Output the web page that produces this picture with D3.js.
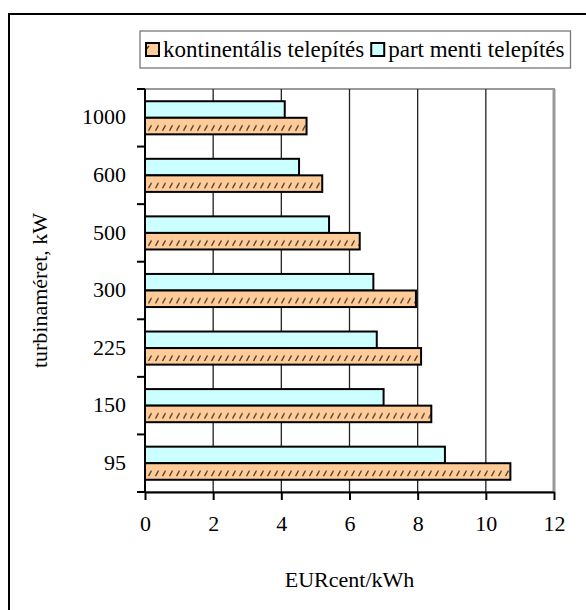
<!DOCTYPE html>
<html>
<head>
<meta charset="utf-8">
<script src="https://cdn.jsdelivr.net/npm/d3@7"></script>
<style>
  body { margin: 0; background: #fff; }
  svg { display: block; }
  svg text { font-family: "Liberation Serif", "Times New Roman", serif; fill: #000; }
</style>
</head>
<body>
<div id="chart"></div>
<script>
// ---- data ----
const categories = ["95", "150", "225", "300", "500", "600", "1000"];
const seriesNames = ["kontinentális telepítés", "part menti telepítés"];
const kontinentalis = [10.72, 8.4, 8.1, 7.95, 6.3, 5.2, 4.74];
const partMenti = [8.8, 7.0, 6.8, 6.7, 5.4, 4.52, 4.1];
const xTicks = [0, 2, 4, 6, 8, 10, 12];
const xTitle = "EURcent/kWh";
const yTitle = "turbinaméret, kW";

const W = 586, H = 610;
const FS = 22;
const plot = { left: 145, right: 554, top: 89, bottom: 492 };

const svg = d3.select("#chart").append("svg").attr("width", W).attr("height", H);

// outer frame (extends beyond the picture at right/bottom)
svg.append("rect").attr("x", 9).attr("y", 14).attr("width", 600).attr("height", 620)
  .attr("fill", "#fff").attr("stroke", "#000").attr("stroke-width", 2);

const x = d3.scaleLinear().domain([0, 12]).range([plot.left, plot.right]);
const y = d3.scaleBand().domain(categories.slice().reverse()).range([plot.top, plot.bottom]).padding(0);
const step = y.step();
const groupH = step * 0.575;
const inner = d3.scaleBand().domain(["part", "kont"]).range([0, groupH]).padding(0);
const groupOff = (step - groupH) / 2;

// hatch pattern aligned with the orange bar rows
const defs = svg.append("defs");
const firstKontTop = y(categories[categories.length - 1]) + groupOff + inner("kont");
const pat = defs.append("pattern").attr("id", "hatch").attr("patternUnits", "userSpaceOnUse")
  .attr("x", 0).attr("y", firstKontTop).attr("width", 7).attr("height", step);
pat.append("rect").attr("width", 7).attr("height", step).attr("fill", "#FFCC99");
pat.append("line").attr("x1", 1.5).attr("y1", inner.bandwidth() * 0.78).attr("x2", 4.5).attr("y2", inner.bandwidth() * 0.45)
  .attr("stroke", "#4a3a2a").attr("stroke-width", 1.4);

const legPat = defs.append("pattern").attr("id", "hatchLeg").attr("patternUnits", "userSpaceOnUse")
  .attr("width", 14).attr("height", 14);
legPat.append("rect").attr("width", 14).attr("height", 14).attr("fill", "#FFCC99");
legPat.append("line").attr("x1", 4).attr("y1", 10).attr("x2", 9).attr("y2", 4)
  .attr("stroke", "#4a3a2a").attr("stroke-width", 1.4);

// plot area border (gray)
svg.append("rect").attr("x", plot.left).attr("y", plot.top)
  .attr("width", plot.right - plot.left).attr("height", plot.bottom - plot.top)
  .attr("fill", "#fff").attr("stroke", "#999").attr("stroke-width", 2);

// vertical gridlines
svg.append("g").selectAll("line").data(xTicks.filter(d => d > 0 && d < 12)).join("line")
  .attr("x1", d => x(d)).attr("x2", d => x(d)).attr("y1", plot.top).attr("y2", plot.bottom)
  .attr("stroke", "#222").attr("stroke-width", 1.3);
svg.append("line").attr("x1", x(12)).attr("x2", x(12)).attr("y1", plot.top).attr("y2", plot.bottom)
  .attr("stroke", "#999").attr("stroke-width", 3);

// bars
const rows = categories.map((c, i) => ({ c, kont: kontinentalis[i], part: partMenti[i] }));
const g = svg.append("g");
g.selectAll("rect.part").data(rows).join("rect").attr("class", "part")
  .attr("x", x(0)).attr("y", d => y(d.c) + groupOff + inner("part"))
  .attr("width", d => x(d.part) - x(0)).attr("height", inner.bandwidth())
  .attr("fill", "#CCFFFF").attr("stroke", "#000").attr("stroke-width", 2);
g.selectAll("rect.kont").data(rows).join("rect").attr("class", "kont")
  .attr("x", x(0)).attr("y", d => y(d.c) + groupOff + inner("kont"))
  .attr("width", d => x(d.kont) - x(0)).attr("height", inner.bandwidth())
  .attr("fill", "url(#hatch)").attr("stroke", "#000").attr("stroke-width", 2);

// x axis
const xAxis = d3.axisBottom(x).tickValues(xTicks).tickSize(8).tickSizeOuter(0).tickPadding(15);
const gx = svg.append("g").attr("transform", `translate(0,${plot.bottom})`).call(xAxis)
  .attr("font-family", null).attr("font-size", null);
gx.select(".domain").attr("stroke", "#000").attr("stroke-width", 2);
gx.selectAll(".tick line").attr("stroke", "#000").attr("stroke-width", 2);
gx.selectAll("text").attr("font-size", FS).attr("fill", "#000");

// y axis: line + ticks at band boundaries
svg.append("line").attr("x1", plot.left).attr("x2", plot.left).attr("y1", plot.top).attr("y2", plot.bottom)
  .attr("stroke", "#000").attr("stroke-width", 2);
const bounds = y.domain().map(c => y(c)).concat([plot.bottom]);
svg.append("g").selectAll("line").data(bounds).join("line")
  .attr("x1", plot.left - 8).attr("x2", plot.left).attr("y1", d => d).attr("y2", d => d)
  .attr("stroke", "#000").attr("stroke-width", 2);
svg.append("g").selectAll("text").data(y.domain()).join("text")
  .attr("x", plot.left - 19).attr("y", d => y(d) + step / 2 - 1).attr("dy", "0.35em")
  .attr("text-anchor", "end").attr("font-size", FS).text(d => d);

// axis titles
svg.append("text").attr("x", (plot.left + plot.right) / 2).attr("y", 587)
  .attr("text-anchor", "middle").attr("font-size", FS).text(xTitle);
svg.append("text").attr("transform", `translate(47,${(plot.top + plot.bottom) / 2}) rotate(-90)`)
  .attr("text-anchor", "middle").attr("font-size", FS).text(yTitle);

// legend
const LFS = 23;
const leg = svg.append("g");
const legBox = leg.append("rect").attr("x", 140).attr("y", 31).attr("height", 37)
  .attr("fill", "#fff").attr("stroke", "#777").attr("stroke-width", 1.3);
let lx = 146;
const fills = ["url(#hatchLeg)", "#CCFFFF"];
seriesNames.forEach((name, i) => {
  leg.append("rect").attr("x", lx).attr("y", 43).attr("width", 13).attr("height", 13)
    .attr("fill", fills[i]).attr("stroke", "#000").attr("stroke-width", 2);
  const t = leg.append("text").attr("x", lx + 17).attr("y", 57).attr("font-size", LFS).text(name);
  lx += 17 + t.node().getComputedTextLength() + 7;
});
legBox.attr("width", lx - 140 - 1);
</script>
</body>
</html>
